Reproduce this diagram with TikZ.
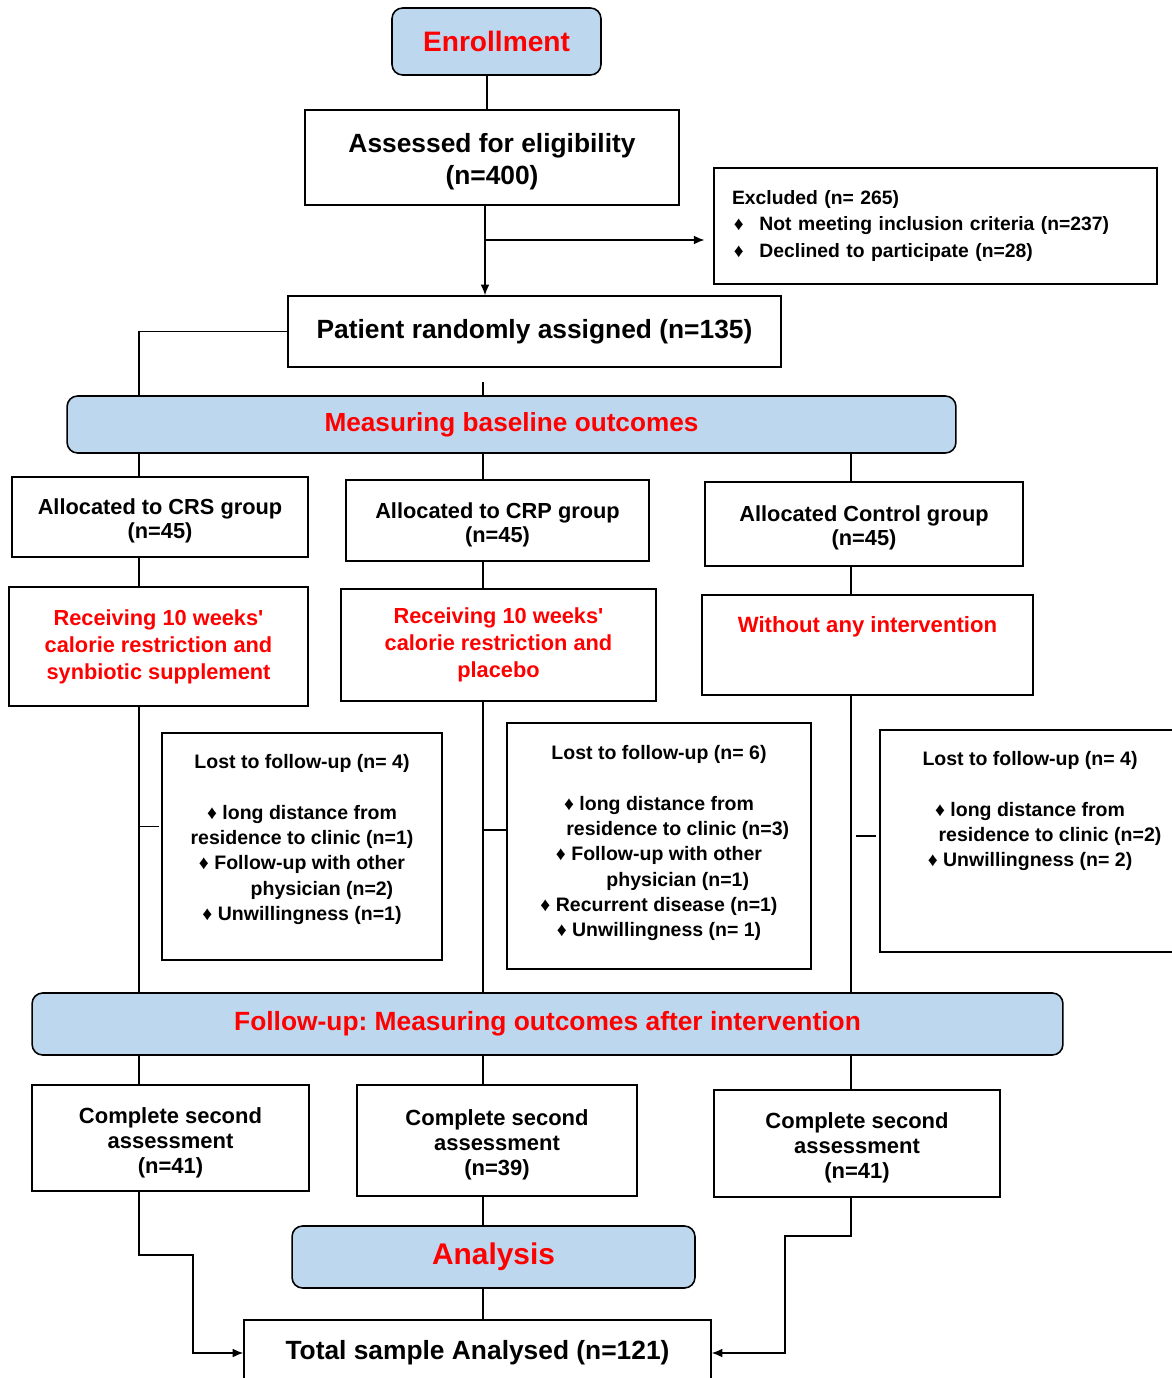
\documentclass[tikz,border=0pt]{standalone}
\usepackage{fontspec}
\setmainfont{Liberation Sans}
\usetikzlibrary{calc,arrows.meta}
\definecolor{boxblue}{HTML}{BDD7EE}
\frenchspacing

\begin{document}
\begin{tikzpicture}[x=0.02cm, y=-0.02cm, >={Latex[length=6pt,width=5pt]}, line width=0.8pt,
  box/.style={draw, line width=0.9pt, align=center, inner sep=2pt, font=\bfseries\fontsize{12.4}{13.8}\selectfont},
  head/.style={box, rounded corners=6pt, fill=boxblue, text=red},
  big/.style={font=\bfseries\fontsize{15}{18.7}\selectfont},
  lost/.style={box, font=\bfseries\fontsize{11.1}{14.4}\selectfont},
  recv/.style={box, text=red, font=\bfseries\fontsize{12.4}{15.3}\selectfont},
  done/.style={box, font=\bfseries\fontsize{12.5}{14.2}\selectfont}]
\useasboundingbox (0,0) rectangle (1171,1378);

% top part
\node[head, minimum width=4.18cm, minimum height=1.34cm, font=\bfseries\fontsize{16}{19}\selectfont] (enr) at (496.5,41.5) {Enrollment};
\node[box, big, minimum width=7.48cm, minimum height=1.9cm] (ass) at (492,157.5) {\mbox{}\\[-3pt]Assessed for eligibility\\(n=400)};
\node[box, align=left, text width=8.14cm, inner xsep=0.36cm, minimum height=2.32cm, font=\bfseries\fontsize{11}{15}\selectfont] (exc) at (935.5,226)
  {Excluded (n= 265)\\
   \hspace*{1pt}♦\hspace{9pt}Not meeting inclusion criteria (n=237)\\
   \hspace*{1pt}♦\hspace{9pt}Declined to participate (n=28)};
\node[box, big, minimum width=9.86cm, minimum height=1.42cm] (pat) at (534.5,331.5) {Patient randomly assigned (n=135)};
\node[head, minimum width=17.78cm, minimum height=1.14cm, font=\bfseries\fontsize{14.9}{17}\selectfont] (meas) at (511.5,424.5) {Measuring baseline outcomes};

% three groups
\node[box, minimum width=5.92cm, minimum height=1.6cm] (a1) at (160,517) {\mbox{}\\Allocated to CRS group\\(n=45)};
\node[box, minimum width=6.06cm, minimum height=1.62cm] (a2) at (497.5,520.5) {\mbox{}\\Allocated to CRP group\\(n=45)};
\node[box, minimum width=6.36cm, minimum height=1.68cm] (a3) at (864,524) {\mbox{}\\Allocated Control group\\(n=45)};

\node[recv, minimum width=5.98cm, minimum height=2.38cm] (r1) at (158.5,646.5) {Receiving 10 weeks\textquotesingle\\calorie restriction and\\synbiotic supplement};
\node[recv, minimum width=6.3cm, minimum height=2.24cm] (r2) at (498.5,645) {Receiving 10 weeks\textquotesingle\\calorie restriction and\\placebo};
\node[recv, minimum width=6.62cm, minimum height=2cm, font=\bfseries\fontsize{12.6}{15.3}\selectfont] (r3) at (867.5,645) {Without any intervention\\[8pt]\mbox{}};

\node[lost, minimum width=5.6cm, minimum height=4.54cm] (l1) at (302,846.5)
  {Lost to follow-up (n= 4)\\ \mbox{}\\
   ♦ long distance from\\
   residence to clinic (n=1)\\
   ♦ Follow-up with other\\
   \hspace*{0.8cm}physician (n=2)\\
   ♦ Unwillingness (n=1)\\[-4pt]\mbox{}};
\node[lost, minimum width=6.08cm, minimum height=4.92cm] (l2) at (659,846)
  {Lost to follow-up (n= 6)\\ \mbox{}\\
   ♦ long distance from\\
   \hspace*{0.75cm}residence to clinic (n=3)\\
   ♦ Follow-up with other\\
   \hspace*{0.75cm}physician (n=1)\\
   ♦ Recurrent disease (n=1)\\
   ♦ Unwillingness (n= 1)\\[-9pt]\mbox{}};
\node[lost, minimum width=6cm, minimum height=4.44cm] (l3) at (1030,841)
  {Lost to follow-up (n= 4)\\ \mbox{}\\
   ♦ long distance from\\
   \hspace*{0.8cm}residence to clinic (n=2)\\
   ♦ Unwillingness (n= 2)\\[22pt]\mbox{}};

\node[head, minimum width=20.62cm, minimum height=1.24cm, font=\bfseries\fontsize{15}{17}\selectfont] (fu) at (547.5,1024) {Follow-up: Measuring outcomes after intervention};

% bottom part
\node[done, minimum width=5.54cm, minimum height=2.12cm] (c1) at (170.5,1138) {\mbox{}\\Complete second\\assessment\\(n=41)};
\node[done, minimum width=5.6cm, minimum height=2.22cm] (c2) at (497,1140.5) {\mbox{}\\Complete second\\assessment\\(n=39)};
\node[done, minimum width=5.72cm, minimum height=2.14cm] (c3) at (857,1143.5) {\mbox{}\\Complete second\\assessment\\(n=41)};
\node[head, minimum width=8.06cm, minimum height=1.24cm, font=\bfseries\fontsize{17}{20}\selectfont] (ana) at (493.5,1257) {Analysis};
\node[box, big, minimum width=9.34cm, minimum height=1.32cm] (tot) at (477.5,1353) {Total sample Analysed (n=121)};

% columns and bends
\coordinate (colA) at (139,0);
\coordinate (colB) at (483,0);
\coordinate (colC) at (851,0);
\coordinate (split) at (485,240);
\coordinate (jogA) at (193,1255);
\coordinate (jogC) at (785,1236);
\coordinate (b1) at ($(l1.west)+(0,-20)$);
\coordinate (b2) at ($(l2.west)+(0,-16)$);
\coordinate (b3) at ($(l3.west)+(0,-5)$);

\draw ([xshift=-0.19cm]enr.south) -- ([xshift=-0.19cm]enr.south |- ass.north);
\draw[->] (split |- ass.south) -- (split |- pat.north);
\draw[->, shorten >=5pt] (split) -- (split -| exc.west);
\draw (pat.west) -| (colA |- meas.north);
\draw[shorten <=8pt] (colB |- pat.south) -- (colB |- meas.north);

\path
(colA |- meas.south) edge (colA |- a1.north)
(colB |- meas.south) edge (colB |- a2.north)
(colC |- meas.south) edge (colC |- a3.north)
(colA |- a1.south) edge (colA |- r1.north)
(colB |- a2.south) edge (colB |- r2.north)
(colC |- a3.south) edge (colC |- r3.north)
(colA |- r1.south) edge (colA |- fu.north)
(colB |- r2.south) edge (colB |- fu.north)
(colC |- r3.south) edge (colC |- fu.north)
(colA |- b1) edge[shorten >=1pt] (b1)
(colB |- b2) edge (b2)
(colC |- b3) edge[shorten <=3pt, shorten >=2pt] (b3)
(colA |- fu.south) edge (colA |- c1.north)
(colB |- fu.south) edge (colB |- c2.north)
(colC |- fu.south) edge (colC |- c3.north)
(colB |- c2.south) edge (colB |- ana.north)
(colB |- ana.south) edge (colB |- tot.north)
;

\draw[->] (colA |- c1.south) |- (jogA) -- (jogA |- tot.west) -- (tot.west);
\draw[->] (colC |- c3.south) |- (jogC) -- (jogC |- tot.east) -- (tot.east);
\end{tikzpicture}
\end{document}
